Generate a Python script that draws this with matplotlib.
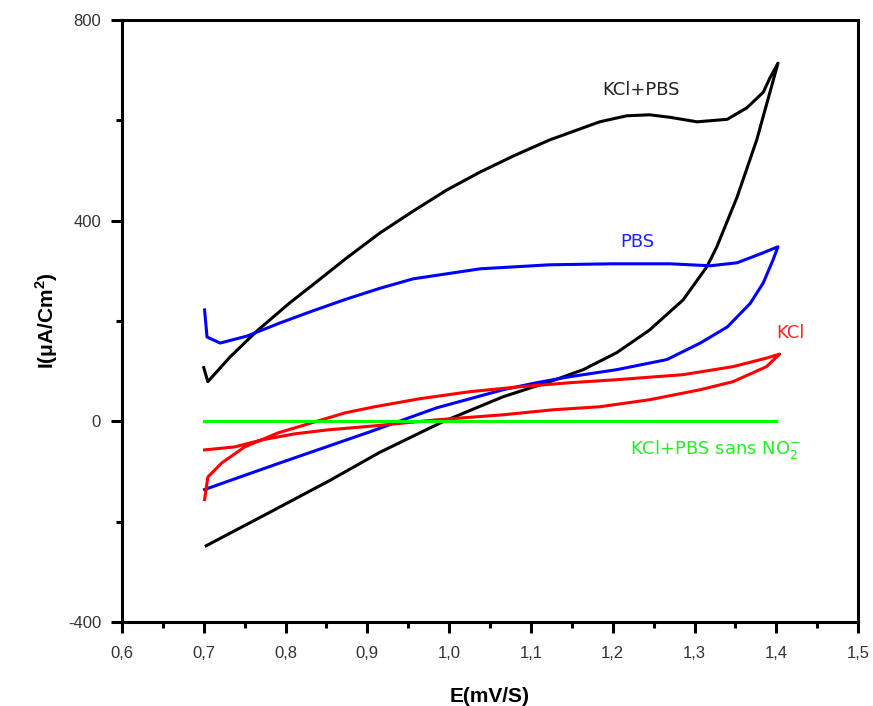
import matplotlib
matplotlib.use("Agg")
import matplotlib.pyplot as plt
from matplotlib.ticker import MultipleLocator, FuncFormatter

plt.rcParams['font.family'] = ['Liberation Sans', 'DejaVu Sans']
plt.rcParams['mathtext.fontset'] = 'custom'
plt.rcParams['mathtext.rm'] = 'DejaVu Sans'
plt.rcParams['mathtext.bf'] = 'Liberation Sans:bold'

# KCl+PBS (black): forward scan then return scan
kclpbs_E = [0.703, 0.78, 0.854, 0.915, 0.992, 1.066, 1.123, 1.164, 1.205, 1.245,
            1.286, 1.315, 1.327, 1.352, 1.376, 1.402,
            1.392, 1.384, 1.364, 1.340, 1.303, 1.270, 1.245, 1.217, 1.184, 1.123, 1.080,
            1.038, 0.997, 0.956, 0.915, 0.875, 0.834, 0.805, 0.765, 0.732, 0.705, 0.700]
kclpbs_I = [-248, -182, -118, -62, -1, 49, 79, 103, 137, 182,
            242, 308, 347, 447, 561, 714,
            684, 656, 625, 602, 597, 606, 611, 609, 597, 561, 530,
            497, 461, 419, 375, 326, 273, 236, 180, 128, 79, 107]

# PBS (blue)
pbs_E = [0.701, 0.793, 0.903, 0.985, 1.066, 1.107, 1.148, 1.205, 1.266, 1.307,
         1.340, 1.368, 1.384, 1.396, 1.402,
         1.384, 1.352, 1.319, 1.270, 1.200, 1.123, 1.038, 0.956, 0.915, 0.875,
         0.833, 0.793, 0.753, 0.720, 0.704, 0.701]
pbs_I = [-136, -83, -21, 27, 63, 77, 89, 103, 123, 156,
         188, 235, 276, 322, 348,
         336, 316, 310, 314, 314, 312, 304, 284, 265, 244,
         220, 196, 170, 156, 168, 222]

# KCl (red)
kcl_E = [0.701, 0.738, 0.771, 0.811, 0.852, 0.909, 0.985, 1.066, 1.127, 1.184,
         1.245, 1.307, 1.347, 1.388, 1.404,
         1.388, 1.347, 1.286, 1.205, 1.148, 1.087, 1.025, 0.964, 0.909, 0.873,
         0.832, 0.791, 0.750, 0.722, 0.705, 0.701]
kcl_I = [-57, -51, -37, -25, -17, -9, 3, 13, 23, 29,
         43, 63, 79, 109, 134,
         126, 109, 93, 83, 77, 69, 59, 45, 29, 17,
         -3, -23, -51, -83, -111, -156]

# KCl+PBS sans NO2- (green)
blank_E = [0.7, 1.4]
blank_I = [0, 0]

fig = plt.figure(figsize=(8.73, 7.06), dpi=100)
ax = fig.add_axes([0.1397, 0.119, 0.8433, 0.8527])

lw = 2.2
ax.plot(kclpbs_E, kclpbs_I, color='black', lw=lw)
ax.plot(pbs_E, pbs_I, color='#0000ff', lw=lw)
ax.plot(kcl_E, kcl_I, color='#ff0000', lw=lw)
ax.plot(blank_E, blank_I, color='#00ff00', lw=lw)

lab = dict(fontsize=13, family=['DejaVu Sans'], va='center')
ax.text(1.234, 660, 'KCl+PBS', color='#222222', ha='center', **lab)
ax.text(1.230, 357, 'PBS', color='#2222ff', ha='center', **lab)
ax.text(1.417, 176, 'KCl', color='#ff2222', ha='center', **lab)
ax.text(1.221, -57, r'KCl+PBS sans NO$_2^{-}$', color='#22ee22', ha='left', **lab)

ax.set_xlim(0.6, 1.5)
ax.set_ylim(-400, 800)
ax.xaxis.set_major_locator(MultipleLocator(0.1))
ax.xaxis.set_minor_locator(MultipleLocator(0.05))
ax.yaxis.set_major_locator(MultipleLocator(400))
ax.yaxis.set_minor_locator(MultipleLocator(200))
ax.xaxis.set_major_formatter(FuncFormatter(lambda v, p: f'{v:.1f}'.replace('.', ',')))
ax.yaxis.set_major_formatter(FuncFormatter(lambda v, p: f'{v:.0f}'))

ax.tick_params(which='major', direction='out', length=8, width=2.2,
               labelsize=12, labelcolor='#333333')
ax.tick_params(which='minor', direction='out', length=4, width=2.2)
ax.tick_params(axis='x', pad=9)
ax.tick_params(axis='y', pad=7)
for s in ax.spines.values():
    s.set_linewidth(2.2)

ax.set_xlabel('E(mV/S)', fontsize=15, fontweight='bold', labelpad=19)
ax.set_ylabel(r'I(μA/Cm$^{\mathbf{2}}$)', fontsize=15, fontweight='bold', labelpad=6)

fig.savefig('out.png', dpi=100)
